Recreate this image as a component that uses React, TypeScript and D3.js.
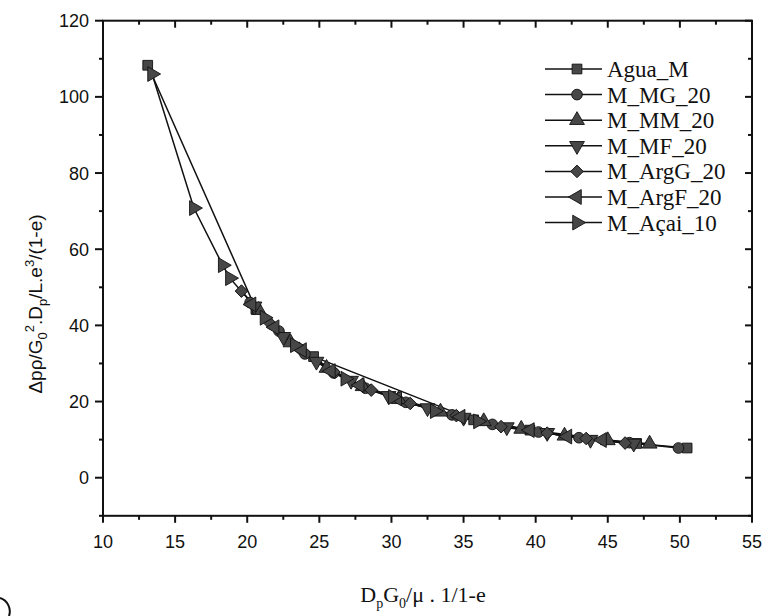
import React from "react";
import * as d3 from "d3";

const aguaX = [13.1, 20.6, 24.6, 35.7, 39.6, 47.0, 50.5];
const aguaY = [108.3, 44.3, 31.8, 15.2, 12.5, 9.0, 7.8];

const mgX = [20.2, 22.2, 24.0, 26.0, 28.2, 31.0, 34.2, 37.0, 40.2, 43.0, 46.5, 49.9];
const mgY = [46.0, 38.5, 32.5, 27.5, 23.5, 19.8, 16.5, 14.0, 12.0, 10.5, 9.2, 7.8];

const mmX = [20.8, 23.0, 25.5, 28.0, 30.5, 33.4, 36.4, 39.0, 42.0, 45.0, 47.9];
const mmY = [44.0, 35.5, 28.8, 24.0, 20.6, 17.3, 14.8, 12.8, 11.0, 9.8, 8.9];

const mfX = [20.5, 22.5, 24.8, 27.2, 29.8, 32.5, 35.0, 38.0, 40.8, 43.8, 46.8];
const mfY = [45.0, 37.0, 30.5, 25.5, 21.5, 18.3, 15.8, 13.3, 11.8, 10.0, 9.0];

const argGX = [19.6, 21.6, 23.6, 26.0, 28.6, 31.3, 34.5, 37.6, 40.8, 43.5, 46.2];
const argGY = [49.0, 40.5, 34.0, 27.8, 23.0, 19.5, 16.3, 13.4, 11.7, 10.3, 9.1];

const argFX = [20.3, 21.9, 23.8, 25.8, 27.8, 30.4, 34.8, 39.6, 42.2, 44.6];
const argFY = [45.5, 39.5, 33.5, 28.0, 24.3, 20.8, 16.0, 12.5, 10.8, 9.9];

const acaiX = [13.4, 16.3, 18.3, 18.8, 21.2, 23.3, 26.8, 30.1, 33.0, 36.0];
const acaiY = [106.0, 70.8, 55.8, 52.4, 42.0, 34.8, 26.0, 21.2, 17.5, 14.8];

const seriesNames = ["Agua_M", "M_MG_20", "M_MM_20", "M_MF_20", "M_ArgG_20", "M_ArgF_20", "M_Açai_10"];
const seriesMarkers = ["square", "circle", "up", "down", "diamond", "left", "right"];
const seriesXs = [aguaX, mgX, mmX, mfX, argGX, argFX, acaiX];
const seriesYs = [aguaY, mgY, mmY, mfY, argGY, argFY, acaiY];

const xTicks = [10, 15, 20, 25, 30, 35, 40, 45, 50, 55];
const yTicks = [0, 20, 40, 60, 80, 100, 120];

const L = 103, R = 752, T = 20.7, B = 515.8;
const FILL = "#474747";

function markerPath(kind: string): { d: string; rot: number } {
  if (kind === "square") return { d: d3.symbol().type(d3.symbolSquare).size(95)() as string, rot: 0 };
  if (kind === "circle") return { d: d3.symbol().type(d3.symbolCircle).size(90)() as string, rot: 0 };
  if (kind === "diamond") return { d: d3.symbol().type(d3.symbolSquare).size(80)() as string, rot: 45 };
  const tri = d3.symbol().type(d3.symbolTriangle).size(95)() as string;
  const rot = kind === "up" ? 0 : kind === "down" ? 180 : kind === "left" ? -90 : 90;
  return { d: tri, rot };
}

export default function App() {
  const x = d3.scaleLinear().domain([10, 55]).range([L, R]);
  const y = d3.scaleLinear().domain([-10, 120]).range([B, T]);
  const line = d3.line<[number, number]>().x((d) => x(d[0])).y((d) => y(d[1]));

  const xMinor = d3.range(12.5, 55, 5);
  const yMinor = d3.range(-10, 120, 20);

  const legX = 563, legY0 = 69, legStep = 25.6;

  return (
    <svg width={770} height={616} style={{ position: "absolute", left: 0, top: 0, background: "#fff" }}>
      <rect x={0} y={0} width={770} height={616} fill="#fff" />
      {seriesXs.map((xs, i) => (
        <path key={"l" + i} d={line(xs.map((v, j) => [v, seriesYs[i][j]]) as [number, number][]) as string}
          fill="none" stroke="#111" strokeWidth={1.5} />
      ))}
      {seriesXs.map((xs, i) => {
        const m = markerPath(seriesMarkers[i]);
        return xs.map((v, j) => (
          <path key={"m" + i + "-" + j} d={m.d}
            transform={`translate(${x(v)},${y(seriesYs[i][j])}) rotate(${m.rot})`}
            fill={FILL} stroke="#111" strokeWidth={0.9} />
        ));
      })}
      <rect x={L} y={T} width={R - L} height={B - T} fill="none" stroke="#111" strokeWidth={2} />
      {xTicks.map((t) => (
        <g key={"xt" + t}>
          <line x1={x(t)} x2={x(t)} y1={B} y2={B + 7} stroke="#111" strokeWidth={2} />
          <line x1={x(t)} x2={x(t)} y1={T} y2={T + 7} stroke="#111" strokeWidth={2} />
          <text x={x(t)} y={548} textAnchor="middle" fontFamily="Liberation Sans, Arial, sans-serif" fontSize={18} fill="#111">{t}</text>
        </g>
      ))}
      {xMinor.map((t) => (
        <g key={"xm" + t}>
          <line x1={x(t)} x2={x(t)} y1={B} y2={B + 4} stroke="#111" strokeWidth={2} />
          <line x1={x(t)} x2={x(t)} y1={T} y2={T + 4} stroke="#111" strokeWidth={2} />
        </g>
      ))}
      {yTicks.map((t) => (
        <g key={"yt" + t}>
          <line x1={L} x2={L - 8} y1={y(t)} y2={y(t)} stroke="#111" strokeWidth={2} />
          <line x1={R} x2={R - 7} y1={y(t)} y2={y(t)} stroke="#111" strokeWidth={2} />
          <text x={89} y={y(t) + 6.5} textAnchor="end" fontFamily="Liberation Sans, Arial, sans-serif" fontSize={18} fill="#111">{t}</text>
        </g>
      ))}
      {yMinor.map((t) => (
        <g key={"ym" + t}>
          <line x1={L} x2={L - 4} y1={y(t)} y2={y(t)} stroke="#111" strokeWidth={2} />
          <line x1={R} x2={R - 4} y1={y(t)} y2={y(t)} stroke="#111" strokeWidth={2} />
        </g>
      ))}
      {seriesNames.map((n, i) => {
        const m = markerPath(seriesMarkers[i]);
        const cy = legY0 + i * legStep;
        return (
          <g key={"lg" + i}>
            <line x1={545} x2={602} y1={cy} y2={cy} stroke="#111" strokeWidth={1.5} />
            <path d={m.d} transform={`translate(${legX + 14},${cy}) rotate(${m.rot})`} fill={FILL} stroke="#111" strokeWidth={0.9} />
            <text x={607} y={cy + 8} fontFamily="Liberation Serif, Times New Roman, serif" fontSize={23} fill="#111">{n}</text>
          </g>
        );
      })}
      <text x={423} y={602} textAnchor="middle" fontFamily="Liberation Serif, Times New Roman, serif" fontSize={22} fill="#111">
        D<tspan fontSize={14} dy={6}>p</tspan><tspan dy={-6}>G</tspan><tspan fontSize={14} dy={6}>0</tspan><tspan dy={-6}>/μ . 1/1-e</tspan>
      </text>
      <text transform="translate(42,304) rotate(-90)" textAnchor="middle" fontFamily="Liberation Sans, Arial, sans-serif" fontSize={19} fill="#111">
        Δpρ/G<tspan fontSize={13} dy={5}>0</tspan><tspan fontSize={13} dy={-13}>2</tspan><tspan dy={8}>.D</tspan><tspan fontSize={13} dy={5}>p</tspan><tspan dy={-5}>/L.e</tspan><tspan fontSize={13} dy={-8}>3</tspan><tspan dy={8}>/(1-e)</tspan>
      </text>
      <path d="M 0 598 A 14 14 0 0 1 9 616" fill="none" stroke="#111" strokeWidth={2} />
    </svg>
  );
}
